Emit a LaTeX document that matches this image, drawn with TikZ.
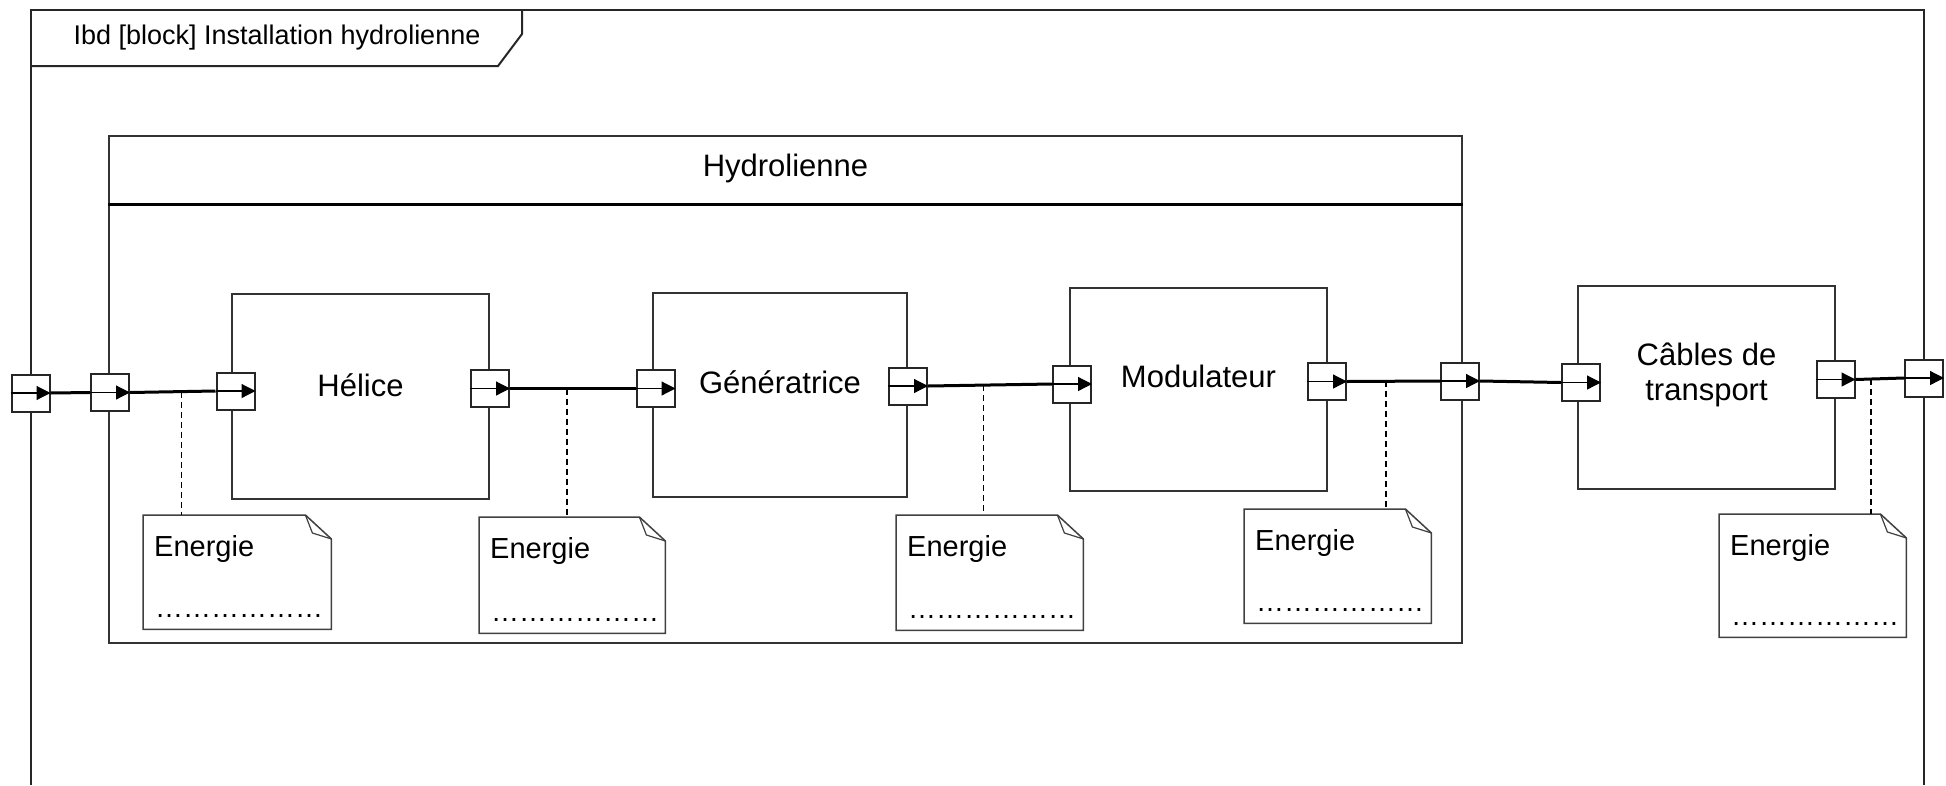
\documentclass[tikz,border=0pt]{standalone}
\usepackage{fontspec}
\setmainfont{Liberation Sans}
\usetikzlibrary{arrows.meta,calc}

\tikzset{
  frame/.style={draw=black!85, line width=2pt},
  block/.style={draw=black!80, line width=2pt, rectangle, inner sep=0pt},
  hdr/.style={draw=black, line width=3pt},
  port/.style={draw=black!85, line width=2pt, fill=white, rectangle,
    minimum width=38pt, minimum height=37pt, inner sep=0pt},
  portarrow/.style={line width=1.2pt, -{Triangle[length=14pt,width=14pt]}},
  flow/.style={line width=3pt},
  note/.style={draw=none, rectangle, inner sep=0pt, anchor=north west},
  notepen/.style={draw=black!75, line width=1.5pt},
  notetxt/.style={inner sep=0pt, anchor=base west, font=\fontsize{29}{34}\selectfont},
  link/.style={line width=1.3pt, dash pattern=on 6pt off 4pt},
  txt/.style={inner sep=0pt, font=\fontsize{31}{35}\selectfont, align=center},
}

% folded note outline
\newcommand{\drawnote}[1]{%
  \draw[notepen, fill=white] (#1.north west) -- ([xshift=-26pt]#1.north east)
    -- ([yshift=-24pt]#1.north east) -- (#1.south east) -- (#1.south west) -- cycle;
  \draw[notepen, line width=1.2pt] ([xshift=-26pt]#1.north east)
    -- ([xshift=-19pt,yshift=-18pt]#1.north east) -- ([yshift=-24pt]#1.north east);}
\newcommand{\dotrow}{\textellipsis\textellipsis\textellipsis\textellipsis\textellipsis\textellipsis}

\begin{document}
\begin{tikzpicture}[x=1pt, y=-1pt]
  \useasboundingbox (0,0) rectangle (1946,785);

  % diagram frame
  \draw[frame] (31,785) -- (31,10) -- (1924,10) -- (1924,785);
  \draw[frame] (31,66) -- (498,66) -- (522,34) -- (522,10);
  \node[inner sep=0pt, font=\fontsize{27}{32}\selectfont] (ttl) at (277,38)
    {Ibd [block] Installation hydrolienne};

  % blocks
  \node[block, minimum width=1353pt, minimum height=507pt] (hydro) at (785.5,389.5) {};
  \draw[hdr] ([yshift=-69pt]hydro.north west) -- ([yshift=-69pt]hydro.north east);
  \node[txt] (hydro-t) at ([yshift=-33pt]hydro.north) {Hydrolienne};

  \node[block, minimum width=257pt, minimum height=205pt,
    label={[txt, name=helice-t, yshift=11pt]center:Hélice}] (helice) at (360.5,396.5) {};
  \node[block, minimum width=254pt, minimum height=204pt,
    label={[txt, name=gen-t, yshift=13pt]center:Génératrice}] (gen) at (780,395) {};
  \node[block, minimum width=257pt, minimum height=203pt,
    label={[txt, name=mod-t, yshift=13pt]center:Modulateur}] (mod) at (1198.5,389.5) {};
  \node[block, minimum width=257pt, minimum height=203pt,
    label={[txt, name=cab-t, yshift=13pt]center:Câbles de\\transport}] (cables) at (1706.5,387.5) {};

  % ports
  \node[port] (p0) at (30.5,393) {};
  \node[port] (p1) at (110,392.5) {};
  \node[port] (p2) at (235.5,391) {};
  \node[port] (p3) at (490,388.5) {};
  \node[port] (p4) at (655.5,388.5) {};
  \node[port] (p5) at (908,386) {};
  \node[port] (p6) at (1072,384) {};
  \node[port] (p7) at (1327,381.5) {};
  \node[port] (p8) at (1460,381) {};
  \node[port] (p9) at (1581,382.5) {};
  \node[port] (p10) at (1835.5,379.5) {};
  \node[port] (p11) at (1924,378) {};
  \foreach \p in {p0,p1,p2,p3,p4,p5,p6,p7,p8,p9,p10,p11}
    \draw[portarrow] (\p.west) -- (\p.east);

  % flows
  \draw[flow] (p0.east) -- (p1.west);
  \draw[flow] (p1.east) -- (p2.west);
  \draw[flow] (p3.east) -- (p4.west);
  \draw[flow] (p5.east) -- (p6.west);
  \draw[flow] (p7.east) -- (p8.west);
  \draw[flow] (p8.east) -- (p9.west);
  \draw[flow] (p10.east) -- (p11.west);

  % notes
  \node[note, minimum width=188pt, minimum height=114pt] (n1) at (143,515) {};
  \node[note, minimum width=186pt, minimum height=116pt] (n2) at (479,517) {};
  \node[note, minimum width=187pt, minimum height=115pt] (n3) at (896,515) {};
  \node[note, minimum width=187pt, minimum height=114pt] (n4) at (1244,509) {};
  \node[note, minimum width=187pt, minimum height=123pt] (n5) at (1719,514) {};
  \foreach \n in {n1,n2,n3,n4,n5} {
    \drawnote{\n}
    \node[notetxt] (\n-t) at ([xshift=11pt,yshift=-41pt]\n.north west) {Energie};
    \node[notetxt, font=\fontsize{28}{34}\selectfont] (\n-d) at ([xshift=12pt,yshift=12pt]\n.south west) {\dotrow};
  }

  % note links
  \coordinate (d1) at ($(p1.east)!0.6!(p2.west)$);
  \coordinate (d2) at ($(p3.east)!0.455!(p4.west)$);
  \coordinate (d3) at ($(p5.east)!0.45!(p6.west)$);
  \coordinate (d4) at ($(p7.east)!0.42!(p8.west)$);
  \coordinate (d5) at ($(p10.east)!0.32!(p11.west)$);
  \draw[link] (d1) -- (d1 |- n1.north);
  \draw[link] (d2) -- (d2 |- n2.north);
  \draw[link] (d3) -- (d3 |- n3.north);
  \draw[link] (d4) -- (d4 |- n4.north);
  \draw[link] (d5) -- (d5 |- n5.north);
\end{tikzpicture}
\end{document}
